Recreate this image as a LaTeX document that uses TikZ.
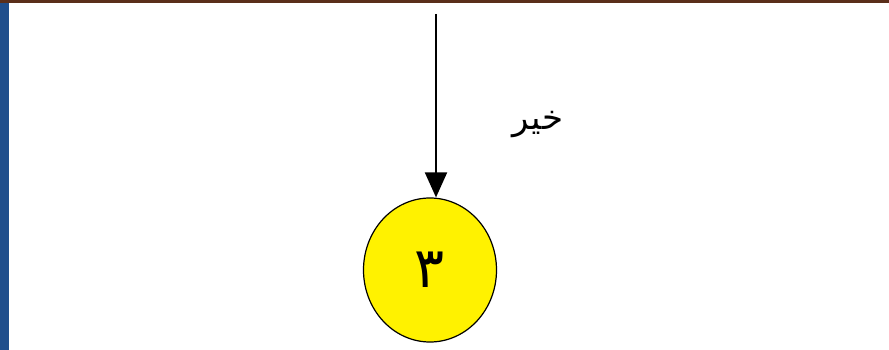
\documentclass[tikz,border=0pt]{standalone}
\usepackage{fontspec}
\setmainfont{Liberation Serif}
\newfontfamily\arabicfont[Script=Arabic]{DejaVu Sans}
\TeXXeTstate=1
\usetikzlibrary{arrows.meta,shapes.geometric}
\definecolor{barblue}{HTML}{1F4E8C}
\definecolor{topbrown}{HTML}{5A2E1A}
\tikzset{
  statenode/.style={ellipse,draw=black,line width=1.2pt,fill=yellow,minimum width=133pt,minimum height=144pt,inner sep=0pt,font=\arabicfont\fontsize{56}{56}\selectfont},
  flow/.style={draw=black,line width=2pt,-{Triangle[length=25pt,width=22pt]}},
  lbl/.style={font=\arabicfont\fontsize{34}{34}\selectfont,inner sep=0pt}
}
\begin{document}
\begin{tikzpicture}[x=1pt,y=-1pt]
\useasboundingbox (0,0) rectangle (889,350);
\fill[white] (0,0) rectangle (889,350);
\fill[barblue] (0,0) rectangle (9,350);
\fill[topbrown] (0,0) rectangle (889,3);
\node[statenode] (s3) at (430,270) {\beginR ٣\endR};
\coordinate (top) at (436,14);
\draw[flow] (top) -- (s3.north -| top);
\node[lbl] (no) at (538,125) {\beginR خير\endR};
\end{tikzpicture}
\end{document}
